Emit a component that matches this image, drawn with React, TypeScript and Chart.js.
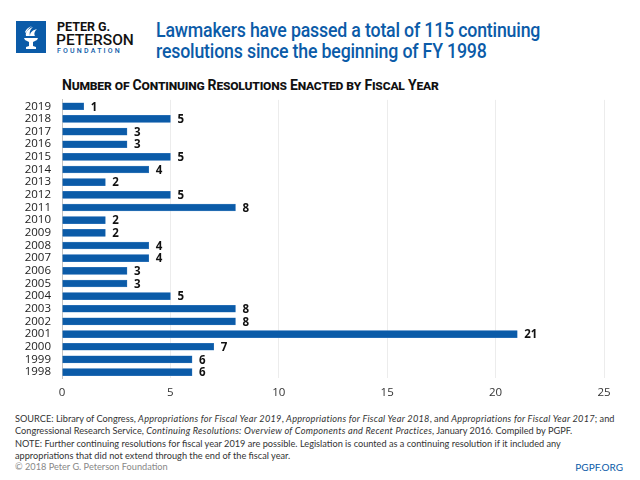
import React, { useEffect, useRef } from "react";
import { Chart, registerables } from "chart.js";

Chart.register(...registerables);

const years = ["2019", "2018", "2017", "2016", "2015", "2014", "2013", "2012", "2011", "2010", "2009", "2008", "2007", "2006", "2005", "2004", "2003", "2002", "2001", "2000", "1999", "1998"];
const counts = [1, 5, 3, 3, 5, 4, 2, 5, 8, 2, 2, 4, 4, 3, 3, 5, 8, 8, 21, 7, 6, 6];
const xMin = 0;
const xMax = 25;
const xStep = 5;

const BLUE = "#0b5ba8";
const FONT = "'Open Sans', 'DejaVu Sans', sans-serif";

const valueLabels = {
  id: "valueLabels",
  afterDatasetsDraw(chart: any) {
    const ctx = chart.ctx;
    const meta = chart.getDatasetMeta(0);
    ctx.save();
    ctx.font = `bold 11.5px ${FONT}`;
    ctx.fillStyle = "#111";
    ctx.textBaseline = "middle";
    ctx.textAlign = "left";
    meta.data.forEach((el: any, i: number) => {
      ctx.fillText(String(counts[i]), el.x + 7, el.y + 1);
    });
    ctx.restore();
  },
};

function Logo() {
  return (
    <div style={{ position: "absolute", left: 16, top: 21 }}>
      <svg width="30" height="32" viewBox="0 0 30 32" style={{ position: "absolute", left: 0, top: 0 }}>
        <rect x="0" y="0" width="30" height="32" fill={BLUE} />
        <path d="M8 17 L22 17 L21 19 L17 21 L17 25 L20 26 L20 28 L10 28 L10 26 L13 25 L13 21 L9 19 Z" fill="#fff" />
        <path d="M10 15 C9 11 12 8 17 6 C14 9 13 11 14 15 Z" fill="#fff" />
        <path d="M14 15 C14 11 17 9 21 8 C18 11 18 13 19 15 Z" fill="#fff" />
        <path d="M9 11 C10 8 13 6 16 5 C13 7 11 9 10 12 Z" fill="#fff" />
      </svg>
      <div style={{ position: "absolute", left: 41, top: 0, fontFamily: "Roboto, sans-serif", fontWeight: 700, fontSize: 12.5, lineHeight: "12px", color: "#111", whiteSpace: "nowrap" }}>PETER G.</div>
      <div style={{ position: "absolute", left: 40, top: 11, fontFamily: "Roboto, sans-serif", fontWeight: 500, fontSize: 15.5, lineHeight: "16px", color: "#111", whiteSpace: "nowrap", letterSpacing: 0 }}>PETERSON</div>
      <div style={{ position: "absolute", left: 41, top: 26, fontFamily: "Roboto, sans-serif", fontWeight: 500, fontSize: 7, lineHeight: "8px", color: BLUE, whiteSpace: "nowrap", letterSpacing: 2.2 }}>FOUNDATION</div>
    </div>
  );
}

const it: React.CSSProperties = { fontStyle: "italic", letterSpacing: 0.25 };

export default function App() {
  const ref = useRef<HTMLCanvasElement | null>(null);

  useEffect(() => {
    if (!ref.current) return;
    const chart = new Chart(ref.current, {
      type: "bar",
      data: {
        labels: years,
        datasets: [
          {
            data: counts,
            backgroundColor: BLUE,
            borderColor: "#3f7fc0",
            borderWidth: 0.5,
            barThickness: 7,
          },
        ],
      },
      options: {
        indexAxis: "y",
        animation: false,
        responsive: false,
        devicePixelRatio: 1,
        layout: { padding: { top: 8.6, right: 36, left: 0, bottom: 0 } },
        plugins: {
          legend: { display: false },
          tooltip: { enabled: false },
        },
        scales: {
          x: {
            min: xMin,
            max: xMax,
            ticks: { stepSize: xStep, color: "#333", font: { family: FONT, size: 11.5 }, padding: 7 },
            grid: { color: "#ececec", drawTicks: false, lineWidth: 1 },
            border: { display: false },
            afterFit: (s: any) => {
              s.height = 31.6;
            },
          },
          y: {
            ticks: { color: "#222", font: { family: FONT, size: 11.5 }, padding: 11, autoSkip: false },
            grid: { display: false, drawTicks: false },
            border: { display: true, color: "#c4c4c4" },
            afterFit: (s: any) => {
              s.width = 62;
            },
          },
        },
      },
      plugins: [valueLabels],
    } as any);
    return () => chart.destroy();
  }, []);

  return (
    <div style={{ position: "absolute", left: 0, top: 0, width: 640, height: 480, background: "#fff", overflow: "hidden" }}>
      <Logo />
      <div style={{ position: "absolute", left: 156, top: 20, fontFamily: "Roboto, sans-serif", fontWeight: 500, fontSize: 19.5, lineHeight: "21px", color: BLUE, whiteSpace: "nowrap", letterSpacing: -0.2, transform: "scaleX(0.91)", transformOrigin: "0 0" }}>
        Lawmakers have passed a total of 115 continuing
        <br />
        resolutions since the beginning of FY 1998
      </div>
      <div style={{ position: "absolute", left: 62, top: 77, fontFamily: "Roboto, sans-serif", fontWeight: 700, fontSize: 14, lineHeight: "16px", color: "#111", fontVariant: "small-caps", whiteSpace: "nowrap", letterSpacing: -0.2 }}>
        Number of Continuing Resolutions Enacted by Fiscal Year
      </div>
      <canvas ref={ref} width={640} height={328} style={{ position: "absolute", left: 0, top: 82, width: 640, height: 328 }} />
      <div style={{ position: "absolute", left: 15, top: 413, fontFamily: "Lato, sans-serif", fontSize: 9.2, lineHeight: "12.4px", color: "#333", whiteSpace: "nowrap" }}>
        <div>
          SOURCE: Library of Congress, <span style={it}>Appropriations for Fiscal Year 2019</span>, <span style={it}>Appropriations for Fiscal Year 2018</span>, and <span style={it}>Appropriations for Fiscal Year 2017</span>; and
        </div>
        <div>
          Congressional Research Service, <span style={it}>Continuing Resolutions: Overview of Components and Recent Practices</span>, January 2016. Compiled by PGPF.
        </div>
        <div>NOTE: Further continuing resolutions for fiscal year 2019 are possible. Legislation is counted as a continuing resolution if it included any</div>
        <div>appropriations that did not extend through the end of the fiscal year.</div>
      </div>
      <div style={{ position: "absolute", left: 15, top: 461, fontFamily: "Lato, sans-serif", fontSize: 9.2, lineHeight: "12px", color: "#888", whiteSpace: "nowrap" }}>
        © 2018 Peter G. Peterson Foundation
      </div>
      <div style={{ position: "absolute", right: 17, top: 461, fontFamily: "Lato, sans-serif", fontSize: 10, lineHeight: "12px", color: BLUE, whiteSpace: "nowrap" }}>
        PGPF.ORG
      </div>
    </div>
  );
}
